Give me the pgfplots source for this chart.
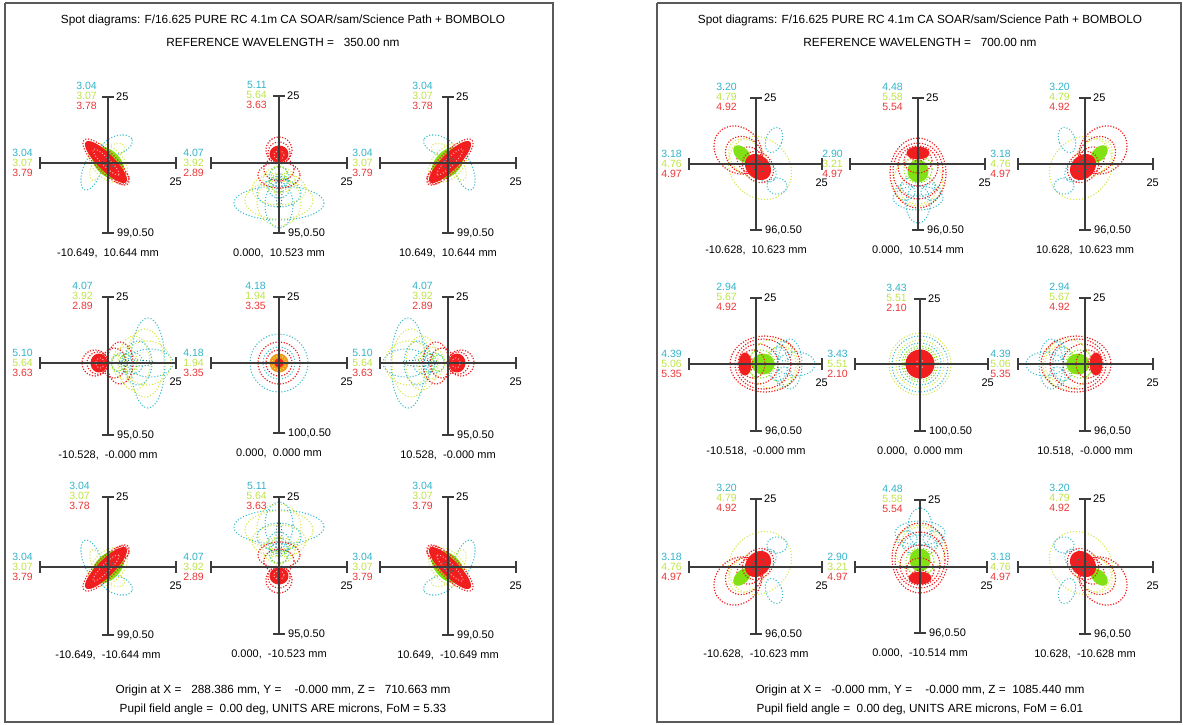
\documentclass[border=0pt]{standalone}
\usepackage{fontspec}
\setmainfont{Liberation Sans}
\usepackage{pgfplots}
\pgfplotsset{compat=1.18}
\usepackage{pgfplotstable}

\definecolor{nc}{RGB}{50,180,200}
\definecolor{ny}{RGB}{190,228,70}
\definecolor{nr}{RGB}{235,55,55}
\definecolor{cyc}{RGB}{60,190,205}
\definecolor{ylc}{RGB}{215,230,70}
\definecolor{rdc}{RGB}{240,30,30}
\definecolor{gnc}{RGB}{130,225,20}
\definecolor{orc}{RGB}{245,150,30}
\definecolor{pkc}{RGB}{255,175,175}
\definecolor{tlc}{RGB}{40,120,130}
\definecolor{frc}{RGB}{90,90,90}
\definecolor{axc}{RGB}{60,60,60}

\pgfplotstableread{
x y
1.000 0.000
0.985 0.174
0.940 0.342
0.866 0.500
0.766 0.643
0.643 0.766
0.500 0.866
0.342 0.940
0.174 0.985
0.000 1.000
-0.174 0.985
-0.342 0.940
-0.500 0.866
-0.643 0.766
-0.766 0.643
-0.866 0.500
-0.940 0.342
-0.985 0.174
-1.000 0.000
-0.985 -0.174
-0.940 -0.342
-0.866 -0.500
-0.766 -0.643
-0.643 -0.766
-0.500 -0.866
-0.342 -0.940
-0.174 -0.985
0.000 -1.000
0.174 -0.985
0.342 -0.940
0.500 -0.866
0.643 -0.766
0.766 -0.643
0.866 -0.500
0.940 -0.342
0.985 -0.174
1.000 0.000
}\unitcircle

\pgfplotstableread{
t u
0 0
1 1
}\segtab

\tikzset{
  cyd/.style={draw=cyc, line width=1.1pt, dash pattern=on 1.1pt off 1.9pt},
  yld/.style={draw=ylc, line width=1.1pt, dash pattern=on 1.1pt off 1.9pt},
  rdd/.style={draw=rdc, line width=1.2pt, dash pattern=on 1.2pt off 1.6pt},
  gnd/.style={draw=gnc, line width=1.1pt, dash pattern=on 1.1pt off 1.9pt},
  pkd/.style={draw=pkc, line width=1.0pt, dash pattern=on 1pt off 2pt},
  tld/.style={draw=tlc, line width=1.0pt, dash pattern=on 1pt off 2pt},
  rdf/.style={draw=rdc, fill=rdc, line width=0.8pt},
  gnf/.style={draw=gnc, fill=gnc, line width=0.8pt},
  orf/.style={draw=orc, fill=orc, line width=0.8pt},
  axl/.style={draw=axc, line width=1.2pt},
  frm/.style={draw=frc, line width=1.5pt},
}

% ellipse: style, dx, dy, a, b, angle
\newcommand{\E}[6]{%
  \edef\tmpplot{\noexpand\addplot[#1] table[x expr={\cx+\sx*(#2+#4*\noexpand\thisrow{x}*cos(#6)-#5*\noexpand\thisrow{y}*sin(#6))}, y expr={\cy+\sy*(#3+#4*\noexpand\thisrow{x}*sin(#6)+#5*\noexpand\thisrow{y}*cos(#6))}]{\noexpand\unitcircle};}%
  \tmpplot}
\newcommand{\ET}[6]{\E{#1}{#3}{#2}{#5}{#4}{-1*(#6)}}

\newcommand{\seg}[4]{\addplot[axl] table[x expr={#1+\thisrow{t}*((#3)-(#1))}, y expr={#2+\thisrow{u}*((#4)-(#2))}]{\segtab};}
\newcommand{\cross}[6]{%
  \seg{#3}{#2}{#4}{#2}
  \seg{#1}{#5}{#1}{#6}
  \seg{#3}{#2-6}{#3}{#2+6}
  \seg{#4}{#2-6}{#4}{#2+6}
  \seg{#1-6}{#5}{#1+6}{#5}
  \seg{#1-6}{#6}{#1+6}{#6}}

% corner cell (350 nm)
\newcommand{\typeA}{%
  \E{cyd}{9}{-18}{16}{9}{-20}%
  \E{cyd}{-16}{7}{9}{21}{20}%
  \E{yld}{7}{-13}{10}{6}{-20}%
  \E{yld}{-11}{5}{6}{13}{20}%
  \E{yld}{0}{0}{23}{15}{45}%
  \E{gnf}{0}{0}{19}{12}{45}%
  \E{rdf}{-2}{-1}{28}{8}{45}%
  \E{rdd}{-2}{-1}{31}{10}{45}%
  \E{rdd}{14}{15}{7}{6}{0}%
  \E{pkd}{-2}{-1}{18}{4}{45}%
  \E{tld}{0}{0}{6}{4}{45}%
}
% edge cell (350 nm), tail toward +dy
\newcommand{\typeB}[1]{%
  #1{cyd}{0}{40}{45}{17}{0}%
  #1{yld}{0}{37}{34}{19}{0}%
  #1{cyd}{0}{42}{14}{23}{0}%
  #1{yld}{0}{39}{22}{24}{0}%
  #1{cyd}{0}{30}{22}{14}{0}%
  #1{yld}{0}{26}{27}{16}{0}%
  #1{cyd}{0}{24}{11}{11}{0}%
  #1{cyd}{0}{14}{10}{10}{0}%
  #1{yld}{0}{17}{16}{13}{0}%
  #1{gnd}{0}{20}{9}{9}{0}%
  #1{gnd}{0}{10}{8}{7}{0}%
  #1{tld}{0}{28}{3}{18}{0}%
  #1{rdd}{0}{12}{21}{13}{0}%
  #1{rdd}{0}{6}{15}{12}{0}%
  #1{rdd}{0}{-13}{13}{13}{0}%
  #1{rdd}{0}{-10}{11}{11}{0}%
  #1{rdf}{0}{-9}{9}{8}{0}%
  #1{pkd}{0}{-8}{5}{4}{0}%
}
% centre cell (350 nm)
\newcommand{\typeC}{%
  \E{cyd}{0}{0}{29}{29}{0}%
  \E{rdd}{0}{0}{21}{21}{0}%
  \E{cyd}{0}{0}{16}{16}{0}%
  \E{rdd}{0}{0}{13}{13}{0}%
  \E{orf}{0}{0}{9}{9}{0}%
  \E{yld}{0}{0}{7}{7}{0}%
  \E{rdf}{0}{0}{4}{4}{0}%
}
% corner cell (700 nm)
\newcommand{\typeD}{%
  \E{yld}{4}{4}{34}{29}{45}%
  \E{yld}{-8}{-6}{22}{16}{45}%
  \E{cyd}{18}{-24}{8}{13}{20}%
  \E{cyd}{21}{22}{10}{8}{0}%
  \E{cyd}{8}{6}{14}{10}{45}%
  \E{rdd}{-18}{-14}{26}{22}{45}%
  \E{rdd}{-12}{-9}{20}{17}{45}%
  \E{rdd}{-6}{-4}{14}{12}{45}%
  \E{gnf}{-14}{-10}{10}{6}{45}%
  \E{rdf}{2}{3}{14}{11}{45}%
  \E{rdd}{2}{3}{17}{14}{45}%
  \E{tld}{2}{2}{7}{5}{45}%
}
% edge cell (700 nm), red toward +dy
\newcommand{\typeE}[1]{%
  #1{yld}{0}{-18}{25}{24}{0}%
  #1{yld}{0}{-25}{18}{15}{0}%
  #1{cyd}{0}{-34}{25}{12}{0}%
  #1{cyd}{0}{-40}{12}{19}{0}%
  #1{cyd}{-13}{-28}{10}{8}{0}%
  #1{cyd}{13}{-28}{10}{8}{0}%
  #1{cyd}{0}{-22}{17}{10}{0}%
  #1{gnd}{0}{-5}{14}{14}{0}%
  #1{gnf}{0}{-7}{10}{11}{0}%
  #1{rdd}{0}{-9}{28}{35}{0}%
  #1{rdd}{0}{-7}{25}{28}{0}%
  #1{rdd}{0}{-2}{20}{20}{0}%
  #1{rdd}{0}{3}{14}{12}{0}%
  #1{rdd}{0}{8}{8}{5}{0}%
  #1{rdf}{0}{11}{11}{6}{0}%
}
% centre cell (700 nm)
\newcommand{\typeF}{%
  \E{yld}{0}{0}{31}{31}{0}%
  \E{cyd}{0}{0}{28}{28}{0}%
  \E{yld}{0}{0}{24}{24}{0}%
  \E{cyd}{0}{0}{21}{21}{0}%
  \E{gnd}{0}{0}{18}{18}{0}%
  \E{gnd}{0}{0}{16}{16}{0}%
  \E{rdf}{0}{0}{14}{14}{0}%
  \E{rdd}{0}{0}{14}{14}{0}%
  \E{pkd}{0}{0}{4}{4}{0}%
}

\newcommand{\lbl}{\fontsize{11}{13}\selectfont}
\newcommand{\num}{\fontsize{10.5}{12}\selectfont}
\newcommand{\ttl}{\fontsize{11.8}{14}\selectfont}

% labels: cx cy xr yt yb bottom caption
\newcommand{\lab}[7]{%
  \node[anchor=west,font=\lbl] at ({#1+8},{#4}) {25};
  \node[anchor=east,font=\lbl] at ({#3+6},{#2+19}) {25};
  \node[anchor=west,font=\lbl] at ({#1+9},{#5}) {#6};
  \node[font=\lbl] at ({#1},{#5+20}) {#7};}
% triplet: x y n1 n2 n3 (right aligned)
\newcommand{\trip}[5]{%
  \node[anchor=east,font=\num,text=nc] at ({#1},{#2-10}) {#3};
  \node[anchor=east,font=\num,text=ny] at ({#1},{#2}) {#4};
  \node[anchor=east,font=\num,text=nr] at ({#1},{#2+10}) {#5};}

\begin{document}
\begin{tikzpicture}
\begin{axis}[anchor=north west, at={(0pt,0pt)}, width=1183pt, height=724pt,
  scale only axis, xmin=0, xmax=1183, ymin=0, ymax=724, y dir=reverse,
  hide axis, clip=false]
% frames
\addplot[frm] coordinates {(5,3) (553,3) (553,722) (5,722) (5,3)};
\addplot[frm] coordinates {(657,3) (1181,3) (1181,722) (657,722) (657,3)};
% ---- left panel spots
\def\cx{108}\def\cy{163}\def\sx{1}\def\sy{1}\typeA
\def\cx{448}\def\sx{-1}\typeA
\def\cx{108}\def\cy{567}\def\sx{1}\def\sy{-1}\typeA
\def\cx{448}\def\sx{-1}\typeA
\def\cx{279}\def\cy{163}\def\sx{1}\def\sy{1}\typeB\E
\def\cy{567}\def\sy{-1}\typeB\E
\def\cx{108}\def\cy{363}\def\sx{1}\def\sy{1}\typeB\ET
\def\cx{448}\def\sx{-1}\typeB\ET
\def\cx{279}\def\cy{363}\def\sx{1}\def\sy{1}\typeC
% ---- right panel spots
\def\cx{756}\def\cy{164}\def\sx{1}\def\sy{1}\typeD
\def\cx{1085}\def\sx{-1}\typeD
\def\cx{756}\def\cy{567}\def\sx{1}\def\sy{-1}\typeD
\def\cx{1085}\def\sx{-1}\typeD
\def\cx{920}\def\cy{567}\def\sx{1}\def\sy{1}\typeE\E
\def\cx{918}\def\cy{164}\def\sy{-1}\typeE\E
\def\cx{756}\def\cy{364}\def\sx{-1}\def\sy{1}\typeE\ET
\def\cx{1085}\def\sx{1}\typeE\ET
\def\cx{920}\def\cy{364}\def\sx{1}\def\sy{1}\typeF
% ---- crosses
\cross{108}{163}{40}{176}{97}{233}
\cross{279}{163}{211}{347}{96}{233}
\cross{448}{163}{380}{516}{97}{233}
\cross{108}{363}{40}{176}{297}{435}
\cross{279}{363}{211}{347}{297}{433}
\cross{448}{363}{380}{516}{297}{435}
\cross{108}{567}{40}{176}{497}{635}
\cross{279}{567}{211}{347}{497}{634}
\cross{448}{567}{380}{516}{497}{635}
\cross{756}{164}{689}{822}{98}{230}
\cross{918}{164}{850}{985}{98}{230}
\cross{1085}{164}{1018}{1153}{98}{230}
\cross{756}{364}{689}{822}{298}{431}
\cross{920}{364}{855}{988}{299}{431}
\cross{1085}{364}{1018}{1153}{298}{431}
\cross{756}{567}{689}{822}{499}{634}
\cross{920}{567}{855}{987}{500}{633}
\cross{1085}{567}{1018}{1153}{499}{634}
\end{axis}
\begin{scope}[x=1pt,y=-1pt,every node/.style={inner sep=0pt}]
\path (0,0) rectangle (1183,724);
% titles
\node[font=\ttl] at (283,20) {Spot diagrams: F/16.625 PURE RC 4.1m CA SOAR/sam/Science Path + BOMBOLO};
\node[font=\ttl] at (283,42) {REFERENCE WAVELENGTH =\ \ \ 350.00 nm};
\node[font=\ttl] at (920,20) {Spot diagrams: F/16.625 PURE RC 4.1m CA SOAR/sam/Science Path + BOMBOLO};
\node[font=\ttl] at (920,42) {REFERENCE WAVELENGTH =\ \ \ 700.00 nm};
\node[font=\ttl] at (283,690) {Origin at X =\ \ \ 288.386 mm, Y =\ \ \ \ -0.000 mm, Z =\ \ \ 710.663 mm};
\node[font=\ttl] at (283,709) {Pupil field angle =\ \ 0.00 deg, UNITS ARE microns, FoM = 5.33};
\node[font=\ttl] at (920,690) {Origin at X =\ \ \ -0.000 mm, Y =\ \ \ \ -0.000 mm, Z =\ \ 1085.440 mm};
\node[font=\ttl] at (920,709) {Pupil field angle =\ \ 0.00 deg, UNITS ARE microns, FoM = 6.01};
% left panel labels
\lab{108}{163}{176}{97}{233}{99,0.50}{-10.649,\ \ 10.644 mm}
\lab{279}{163}{347}{96}{233}{95,0.50}{0.000,\ \ 10.523 mm}
\lab{448}{163}{516}{97}{233}{99,0.50}{10.649,\ \ 10.644 mm}
\lab{108}{363}{176}{297}{435}{95,0.50}{-10.528,\ \ -0.000 mm}
\lab{279}{363}{347}{297}{433}{100,0.50}{0.000,\ \ 0.000 mm}
\lab{448}{363}{516}{297}{435}{95,0.50}{10.528,\ \ -0.000 mm}
\lab{108}{567}{176}{497}{635}{99,0.50}{-10.649,\ \ -10.644 mm}
\lab{279}{567}{347}{497}{634}{95,0.50}{0.000,\ \ -10.523 mm}
\lab{448}{567}{516}{497}{635}{99,0.50}{10.649,\ \ -10.649 mm}
% right panel labels
\lab{756}{164}{822}{98}{230}{96,0.50}{-10.628,\ \ 10.623 mm}
\lab{918}{164}{985}{98}{230}{96,0.50}{0.000,\ \ 10.514 mm}
\lab{1085}{164}{1153}{98}{230}{96,0.50}{10.628,\ \ 10.623 mm}
\lab{756}{364}{822}{298}{431}{96,0.50}{-10.518,\ \ -0.000 mm}
\lab{920}{364}{988}{299}{431}{100,0.50}{0.000,\ \ 0.000 mm}
\lab{1085}{364}{1153}{298}{431}{96,0.50}{10.518,\ \ -0.000 mm}
\lab{756}{567}{822}{499}{634}{96,0.50}{-10.628,\ \ -10.623 mm}
\lab{920}{567}{987}{500}{633}{96,0.50}{0.000,\ \ -10.514 mm}
\lab{1085}{567}{1153}{499}{634}{96,0.50}{10.628,\ \ -10.628 mm}
% top triplets (left)
\trip{97}{96}{3.04}{3.07}{3.78}
\trip{267}{95}{5.11}{5.64}{3.63}
\trip{433}{96}{3.04}{3.07}{3.78}
\trip{93}{296}{4.07}{3.92}{2.89}
\trip{266}{296}{4.18}{1.94}{3.35}
\trip{433}{296}{4.07}{3.92}{2.89}
\trip{90}{496}{3.04}{3.07}{3.78}
\trip{267}{496}{5.11}{5.64}{3.63}
\trip{433}{496}{3.04}{3.07}{3.79}
% left triplets (left)
\trip{33}{163}{3.04}{3.07}{3.79}
\trip{204}{163}{4.07}{3.92}{2.89}
\trip{373}{163}{3.04}{3.07}{3.79}
\trip{33}{363}{5.10}{5.64}{3.63}
\trip{204}{363}{4.18}{1.94}{3.35}
\trip{373}{363}{5.10}{5.64}{3.63}
\trip{33}{567}{3.04}{3.07}{3.79}
\trip{204}{567}{4.07}{3.92}{2.89}
\trip{373}{567}{3.04}{3.07}{3.79}
% top triplets (right)
\trip{737}{97}{3.20}{4.79}{4.92}
\trip{903}{97}{4.48}{5.58}{5.54}
\trip{1070}{97}{3.20}{4.79}{4.92}
\trip{737}{297}{2.94}{5.67}{4.92}
\trip{907}{298}{3.43}{5.51}{2.10}
\trip{1070}{297}{2.94}{5.67}{4.92}
\trip{737}{498}{3.20}{4.79}{4.92}
\trip{903}{499}{4.48}{5.58}{5.54}
\trip{1070}{498}{3.20}{4.79}{4.92}
% left triplets (right)
\trip{682}{164}{3.18}{4.76}{4.97}
\trip{843}{164}{2.90}{3.21}{4.97}
\trip{1011}{164}{3.18}{4.76}{4.97}
\trip{682}{364}{4.39}{5.06}{5.35}
\trip{848}{364}{3.43}{5.51}{2.10}
\trip{1011}{364}{4.39}{5.06}{5.35}
\trip{682}{567}{3.18}{4.76}{4.97}
\trip{848}{567}{2.90}{3.21}{4.97}
\trip{1011}{567}{3.18}{4.76}{4.97}
\end{scope}
\end{tikzpicture}
\end{document}
